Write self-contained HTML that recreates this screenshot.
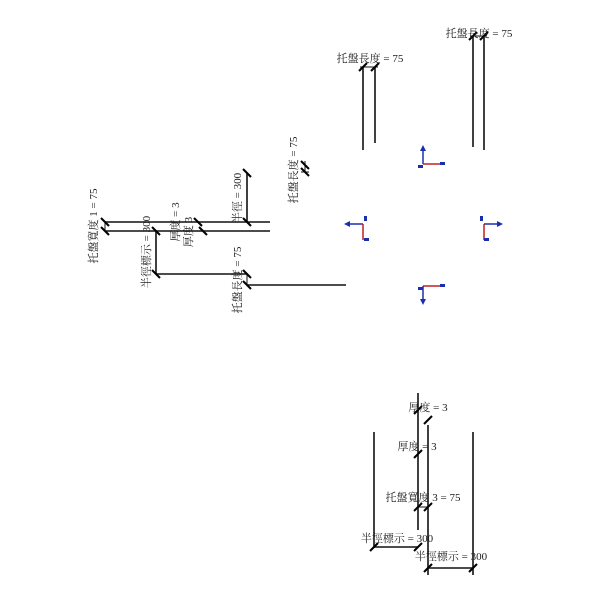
<!DOCTYPE html>
<html><head><meta charset="utf-8"><style>
html,body{margin:0;padding:0;background:#fff;width:600px;height:600px;overflow:hidden}
svg text{font-family:"Liberation Serif","Noto Serif CJK SC","Noto Sans CJK TC",serif;font-size:11px;fill:#222}
</style></head><body>
<svg width="600" height="600" viewBox="0 0 600 600" xmlns="http://www.w3.org/2000/svg">
<g stroke="#111" stroke-width="1.6" fill="none">
<!-- top pairs -->
<line x1="363" y1="67" x2="363" y2="150"/>
<line x1="375" y1="67" x2="375" y2="143"/>
<line x1="360" y1="67" x2="378" y2="67" stroke-width="1"/>
<line x1="473" y1="36" x2="473" y2="147"/>
<line x1="484" y1="36" x2="484" y2="150"/>
<line x1="470" y1="36" x2="487" y2="36" stroke-width="1"/>
<!-- left area -->
<line x1="105" y1="222" x2="270" y2="222"/>
<line x1="105" y1="231" x2="270" y2="231"/>
<line x1="247" y1="173" x2="247" y2="222"/>
<line x1="156" y1="231" x2="156" y2="274"/>
<line x1="156" y1="274" x2="247" y2="274"/>
<line x1="247" y1="285" x2="346" y2="285"/>
<line x1="247" y1="274" x2="247" y2="285" stroke-width="1"/>
<line x1="105" y1="222" x2="105" y2="231" stroke-width="1"/>
<line x1="305" y1="161" x2="305" y2="172" stroke-width="1"/>
<line x1="301" y1="172" x2="309" y2="172" stroke-width="1"/>
<!-- bottom -->
<line x1="418" y1="393" x2="418" y2="530"/>
<line x1="428" y1="425" x2="428" y2="575"/>
<line x1="374" y1="432" x2="374" y2="548"/>
<line x1="473" y1="432" x2="473" y2="575"/>
<line x1="374" y1="547" x2="418" y2="547"/>
<line x1="428" y1="568" x2="473" y2="568"/>
<line x1="418" y1="507" x2="428" y2="507" stroke-width="1"/>
</g>
<!-- ticks -->
<g stroke="#000" stroke-width="2">
<line x1="359" y1="71" x2="367" y2="63"/><line x1="371" y1="71" x2="379" y2="63"/>
<line x1="469" y1="40" x2="477" y2="32"/><line x1="480" y1="40" x2="488" y2="32"/>
<line x1="101" y1="218" x2="109" y2="226"/><line x1="101" y1="227" x2="109" y2="235"/>
<line x1="243" y1="169" x2="251" y2="177"/><line x1="243" y1="218" x2="251" y2="226"/>
<line x1="152" y1="227" x2="160" y2="235"/><line x1="152" y1="270" x2="160" y2="278"/>
<line x1="243" y1="270" x2="251" y2="278"/><line x1="243" y1="281" x2="251" y2="289"/>
<line x1="194" y1="218" x2="202" y2="226"/><line x1="199" y1="227" x2="207" y2="235"/>
<line x1="301" y1="161" x2="309" y2="169"/><line x1="301" y1="168" x2="309" y2="176"/>
<line x1="414" y1="414" x2="422" y2="406"/>
<line x1="424" y1="424" x2="432" y2="416"/>
<line x1="414" y1="458" x2="422" y2="450"/>
<line x1="414" y1="511" x2="422" y2="503"/><line x1="424" y1="511" x2="432" y2="503"/>
<line x1="370" y1="551" x2="378" y2="543"/><line x1="414" y1="551" x2="422" y2="543"/>
<line x1="424" y1="572" x2="432" y2="564"/><line x1="469" y1="572" x2="477" y2="564"/>
</g>
<!-- axis glyphs -->
<g stroke-width="1.5" fill="none">
<line x1="423" y1="149" x2="423" y2="164" stroke="#1a2fb0"/><polygon points="420,151 426,151 423,145" fill="#1a2fb0" stroke="none"/>
<line x1="423" y1="164" x2="440" y2="164" stroke="#c02020"/>
<line x1="348" y1="224" x2="363" y2="224" stroke="#1a2fb0"/><polygon points="350,221 350,227 344,224" fill="#1a2fb0" stroke="none"/>
<line x1="363" y1="224" x2="363" y2="240" stroke="#c02020"/>
<line x1="484" y1="224" x2="499" y2="224" stroke="#1a2fb0"/><polygon points="497,221 497,227 503,224" fill="#1a2fb0" stroke="none"/>
<line x1="484" y1="224" x2="484" y2="240" stroke="#c02020"/>
<line x1="423" y1="286" x2="440" y2="286" stroke="#c02020"/>
<line x1="423" y1="286" x2="423" y2="301" stroke="#1a2fb0"/><polygon points="420,299 426,299 423,305" fill="#1a2fb0" stroke="none"/>
</g>
<g fill="#1a2fb0" stroke="none">
<rect x="418" y="165" width="5" height="3"/><rect x="440" y="162" width="5" height="3"/>
<rect x="364" y="216" width="3" height="5"/><rect x="364" y="238" width="5" height="3"/>
<rect x="480" y="216" width="3" height="5"/><rect x="484" y="238" width="5" height="3"/>
<rect x="418" y="287" width="5" height="3"/><rect x="440" y="284" width="5" height="3"/>
</g>
<!-- labels -->
<text x="370" y="62" text-anchor="middle">托盤長度 = 75</text>
<text x="479" y="37" text-anchor="middle">托盤長度 = 75</text>
<text transform="translate(97,226) rotate(-90)" text-anchor="middle">托盤寬度 1 = 75</text>
<text transform="translate(150,252) rotate(-90)" text-anchor="middle">半徑標示 = 300</text>
<text transform="translate(179,222) rotate(-90)" text-anchor="middle">厚度 = 3</text>
<text transform="translate(192,232) rotate(-90)" text-anchor="middle">厚度 3</text>
<text transform="translate(241,198) rotate(-90)" text-anchor="middle">半徑 = 300</text>
<text transform="translate(241,280) rotate(-90)" text-anchor="middle">托盤長度 = 75</text>
<text transform="translate(297,170) rotate(-90)" text-anchor="middle">托盤長度 = 75</text>
<text x="428" y="411" text-anchor="middle">厚度 = 3</text>
<text x="417" y="450" text-anchor="middle">厚度 = 3</text>
<text x="423" y="501" text-anchor="middle">托盤寬度 3 = 75</text>
<text x="397" y="542" text-anchor="middle">半徑標示 = 300</text>
<text x="451" y="560" text-anchor="middle">半徑標示 = 300</text>
</svg>
</body></html>
